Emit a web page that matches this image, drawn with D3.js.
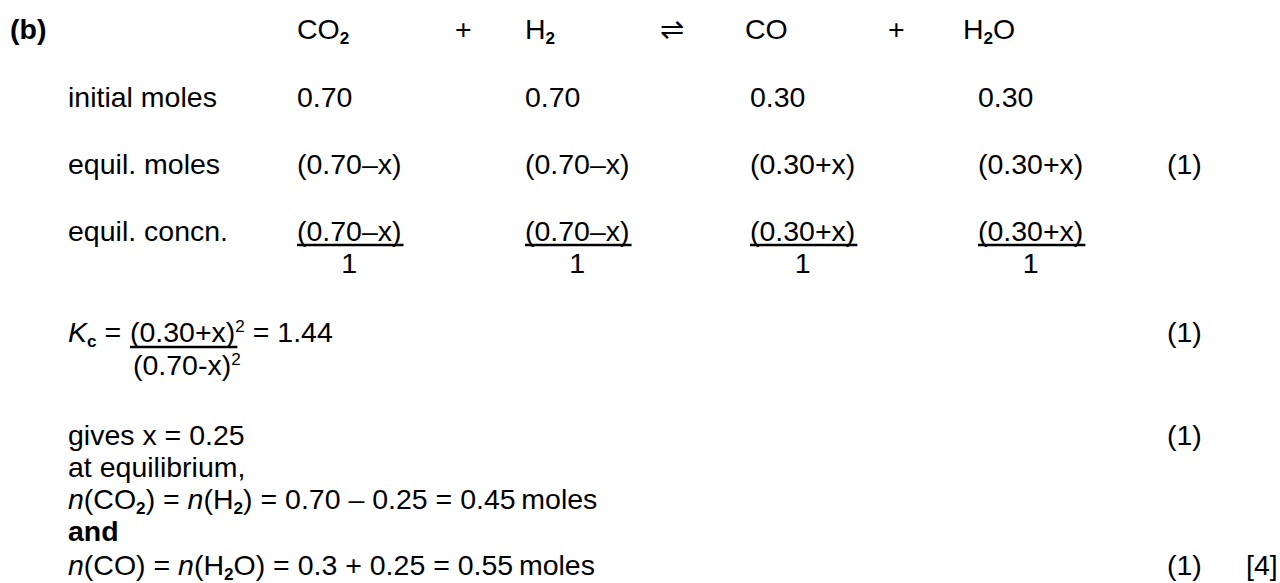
<!DOCTYPE html>
<html><head><meta charset="utf-8">
<script src="https://cdn.jsdelivr.net/npm/d3@7"></script>
<style>body{margin:0;background:#fff}text{font-family:"Liberation Sans",Arial,sans-serif;fill:#000}</style>
</head><body><svg id="c" width="1280" height="583"></svg>
<script>
// ---- data ----
const species = [[["CO",""],["2","sub"]], [["H",""],["2","sub"]], [["CO",""]], [["H",""],["2","sub"],["O",""]]];
const operators = ["+", "\u21CC", "+"];
const initialMoles = ["0.70", "0.70", "0.30", "0.30"];
const equilMoles = ["(0.70\u2013x)", "(0.70\u2013x)", "(0.30+x)", "(0.30+x)"];
const volume = ["1", "1", "1", "1"];
const rowLabels = ["initial moles", "equil. moles", "equil. concn."];
const marks = ["(1)", "(1)", "(1)", "(1)"];
const total = "[4]";
const Kc = "1.44";
const xValue = "0.25";

const FS = 28.5;
const svg = d3.select("#c");
// layout scales
const col = d3.scaleOrdinal().domain([0, 1, 2, 3]).range([297, 525, 750, 978]);
const spX = d3.scaleOrdinal().domain([0, 1, 2, 3]).range([297, 525, 745, 963]);
const opX = d3.scaleOrdinal().domain([0, 1, 2]).range([455, 660, 888]);

function rich(g, x, y, segs, anchor) {
  const t = g.append("text").attr("x", x).attr("y", y).attr("font-size", FS)
    .attr("text-anchor", anchor || "start");
  let shift = 0;
  segs.forEach(([s, st]) => {
    const sp = t.append("tspan").text(s);
    let target = 0;
    if (st.includes("sub")) { target = 5; sp.attr("font-size", FS * 0.6); }
    if (st.includes("sup")) { target = -10; sp.attr("font-size", FS * 0.6); }
    if (target !== shift) { sp.attr("dy", target - shift); shift = target; }
    if (st.includes("i")) sp.attr("font-style", "italic");
    if (st.includes("b")) sp.attr("font-weight", "bold");
  });
  return t;
}
function underline(t, y, extra) {
  const b = t.node().getBBox();
  svg.append("line").attr("x1", b.x).attr("x2", b.x + b.width + (extra || 0)).attr("y1", y).attr("y2", y)
    .attr("stroke", "#000").attr("stroke-width", 2.6);
}

rich(svg, 10, 39, [["(b)", "b"]]);
species.forEach((s, i) => rich(svg, spX(i), 39, s));
operators.forEach((o, i) => rich(svg, opX(i), 39, [[o, ""]]));

const rowY = [107, 174, 241];
rowLabels.forEach((l, r) => rich(svg, 68, rowY[r], [[l, ""]]));
initialMoles.forEach((v, i) => rich(svg, col(i), rowY[0], [[v, ""]]));
equilMoles.forEach((v, i) => rich(svg, col(i), rowY[1], [[v, ""]]));
equilMoles.forEach((v, i) => {
  const t = rich(svg, col(i), rowY[2], [[v, ""]]);
  underline(t, rowY[2] + 4, 2);
  const b = t.node().getBBox();
  rich(svg, b.x + b.width / 2, rowY[2] + 32, [[volume[i], ""]], "middle");
});

// Kc line
const kY = 342;
rich(svg, 68, kY, [["K", "i"], ["c", "sub"], [" =", ""]]);
const num = rich(svg, 130, kY, [[equilMoles[2], ""]]);
const nb = num.node().getBBox();
underline(num, kY + 5, 2);
rich(svg, nb.x + nb.width, kY, [["2", "sup"], [" = " + Kc, ""]]);
rich(svg, 133, kY + 33, [["(0.70-x)", ""], ["2", "sup"]]);

const lowY = [445, 477, 509, 541, 575];
rich(svg, 68, lowY[0], [["gives x = " + xValue, ""]]);
rich(svg, 68, lowY[1], [["at equilibrium,", ""]]);
rich(svg, 68, lowY[2], [["n", "i"], ["(CO", ""], ["2", "sub"], [") = ", ""], ["n", "i"], ["(H", ""], ["2", "sub"], [") = 0.70 \u2013 " + xValue + " = 0.45\u2009moles", ""]]);
rich(svg, 68, lowY[3], [["and", "b"]]);
rich(svg, 68, lowY[4], [["n", "i"], ["(CO) = ", ""], ["n", "i"], ["(H", ""], ["2", "sub"], ["O) = 0.3 + " + xValue + " = 0.55\u2009moles", ""]]);

const markY = [rowY[1], kY, lowY[0], lowY[4]];
marks.forEach((m, i) => rich(svg, 1167, markY[i], [[m, ""]]));
rich(svg, 1246, lowY[4], [[total, ""]]);
</script></body></html>
